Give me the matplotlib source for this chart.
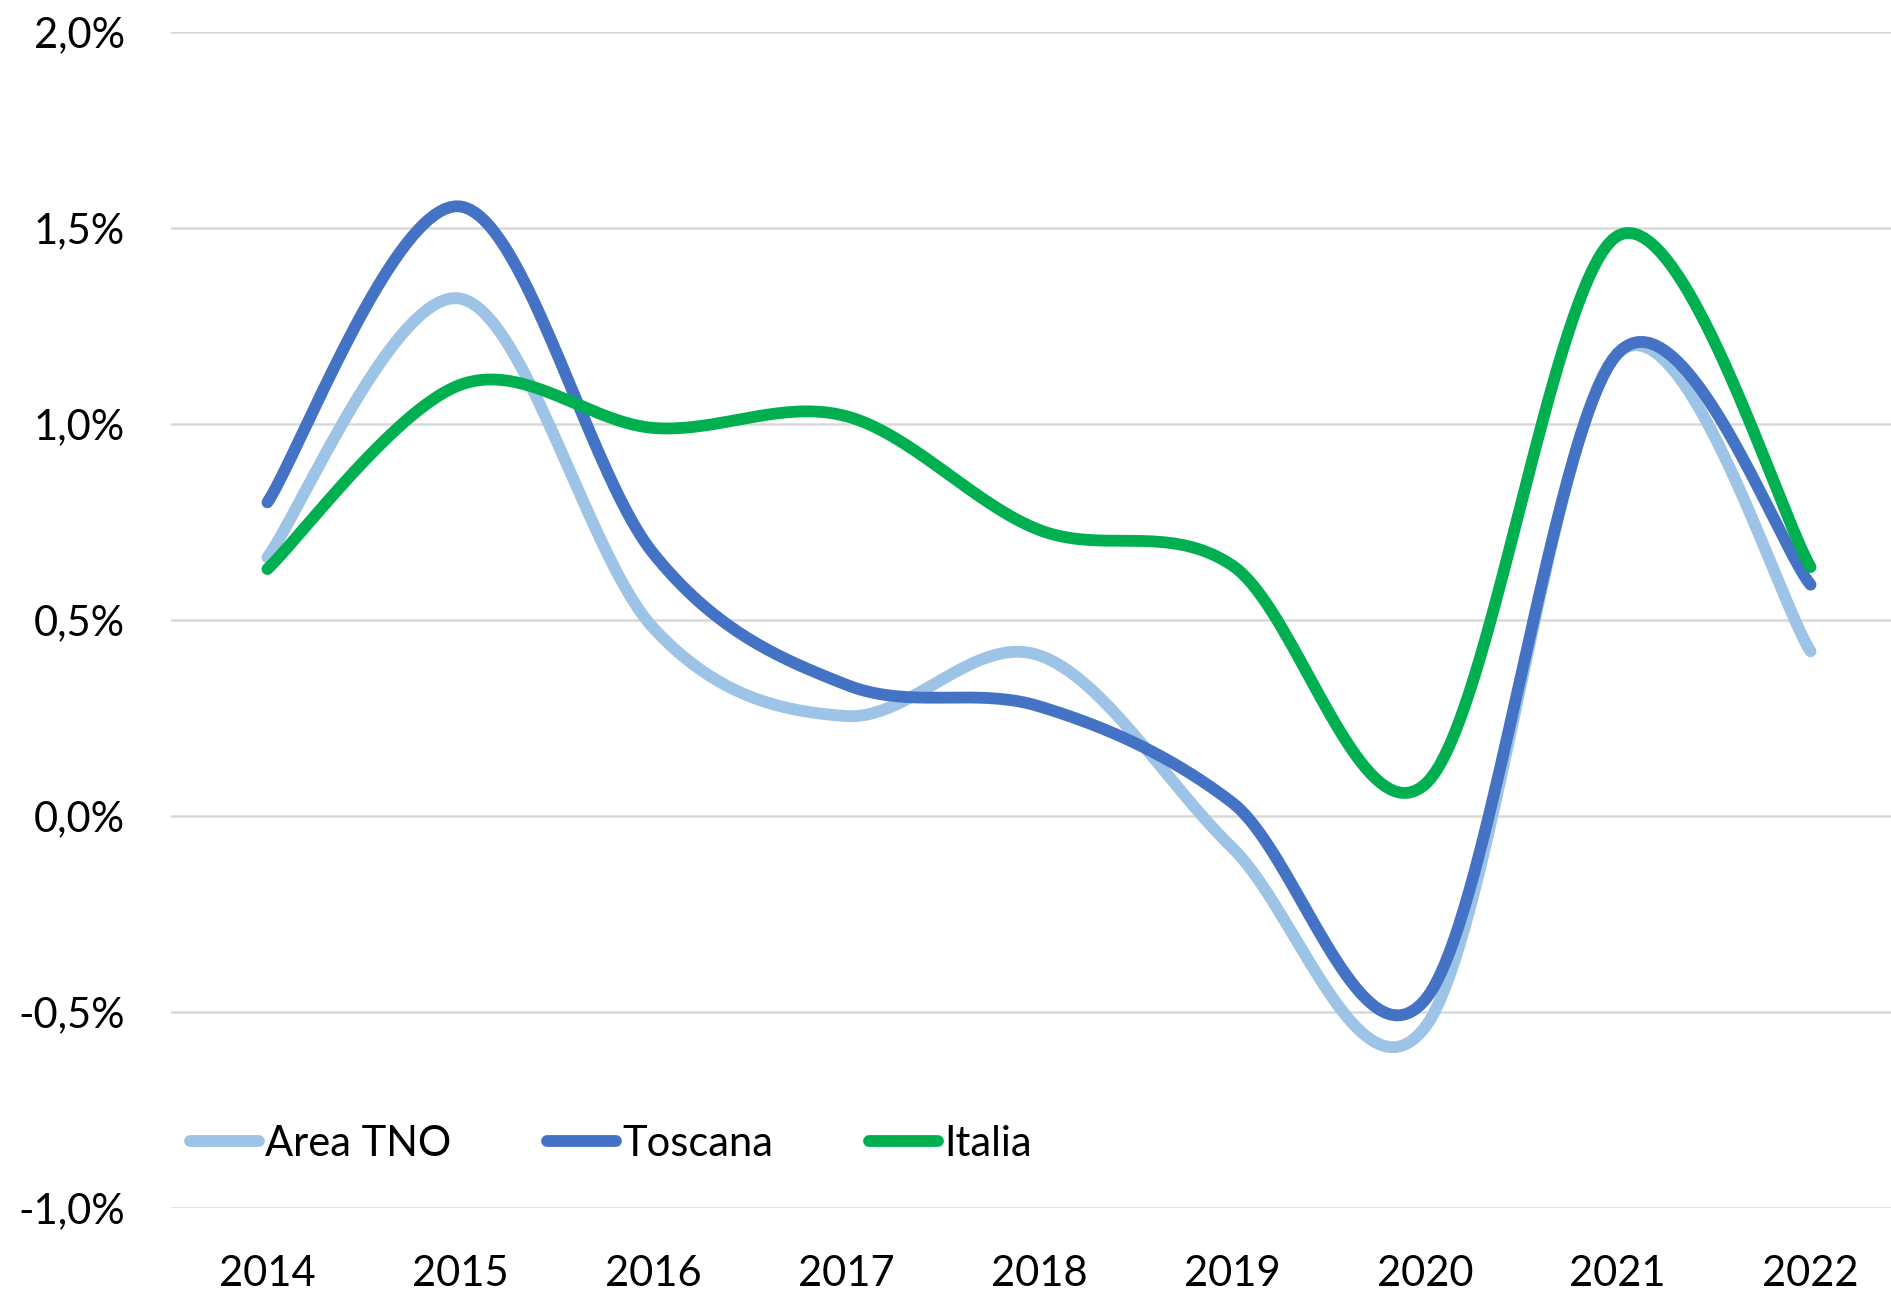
import numpy as np
import matplotlib
matplotlib.use("Agg")
import matplotlib.pyplot as plt

years = ["2014", "2015", "2016", "2017", "2018", "2019", "2020", "2021", "2022"]
area_tno = [0.66, 1.32, 0.48, 0.255, 0.41, -0.08, -0.54, 1.18, 0.42]
toscana = [0.80, 1.555, 0.67, 0.335, 0.28, 0.035, -0.47, 1.18, 0.59]
italia = [0.63, 1.10, 0.99, 1.02, 0.73, 0.64, 0.08, 1.48, 0.635]
y_ticks = [-1.0, -0.5, 0.0, 0.5, 1.0, 1.5, 2.0]
y_tick_labels = ["-1,0%", "-0,5%", "0,0%", "0,5%", "1,0%", "1,5%", "2,0%"]

plt.rcParams["font.family"] = ["Lato", "DejaVu Sans"]


def smooth(xs, ys, n=40):
    """Excel-like smoothed line: Bezier segments with Catmull-Rom control points."""
    p = np.column_stack([xs, ys]).astype(float)
    p_ext = np.vstack([p[0], p, p[-1]])
    out = []
    t = np.linspace(0, 1, n)[:, None]
    for i in range(len(p) - 1):
        p0, p1, p2, p3 = p_ext[i], p_ext[i + 1], p_ext[i + 2], p_ext[i + 3]
        c1 = p1 + (p2 - p0) / 6
        c2 = p2 - (p3 - p1) / 6
        seg = ((1 - t) ** 3) * p1 + 3 * ((1 - t) ** 2) * t * c1 + 3 * (1 - t) * t ** 2 * c2 + t ** 3 * p2
        out.append(seg if i == 0 else seg[1:])
    out = np.vstack(out)
    return out[:, 0], out[:, 1]


W, H = 1891, 1293
fig = plt.figure(figsize=(W / 100, H / 100), dpi=100)
ax = fig.add_axes([171 / W, 1 - 1208 / H, 1736 / W, (1208 - 32) / H])

x = np.arange(len(years))
series = [
    ("Area TNO", area_tno, "#9DC3E6"),
    ("Toscana", toscana, "#4472C4"),
    ("Italia", italia, "#00B050"),
]
for name, vals, color in series:
    sx, sy = smooth(x, vals)
    ax.plot(sx, sy, color=color, lw=8.5, solid_capstyle="round",
            solid_joinstyle="round", label=name, zorder=3)

ax.set_xlim(-0.5, len(years) - 0.5)
ax.set_ylim(-1.0, 2.0)
ax.set_xticks(x)
ax.set_xticklabels(years)
ax.set_yticks(y_ticks)
ax.set_yticklabels(y_tick_labels)
ax.tick_params(axis="both", length=0, labelsize=30, labelcolor="black")
ax.tick_params(axis="y", pad=33)
ax.tick_params(axis="x", pad=34)

ax.grid(axis="y", color="#D9D9D9", lw=1.8, zorder=0)
for s in ax.spines.values():
    s.set_visible(False)

leg = ax.legend(loc="center left", bbox_to_anchor=(190 / W, 1 - 1144 / H),
                bbox_transform=fig.transFigure, ncol=3, frameon=False,
                fontsize=30, handlelength=1.65, handletextpad=0.15,
                columnspacing=2.3, borderpad=0, borderaxespad=0)
for line in leg.get_lines():
    line.set_linewidth(8.5)
    line.set_solid_capstyle("round")

fig.savefig("out.png", dpi=100)
